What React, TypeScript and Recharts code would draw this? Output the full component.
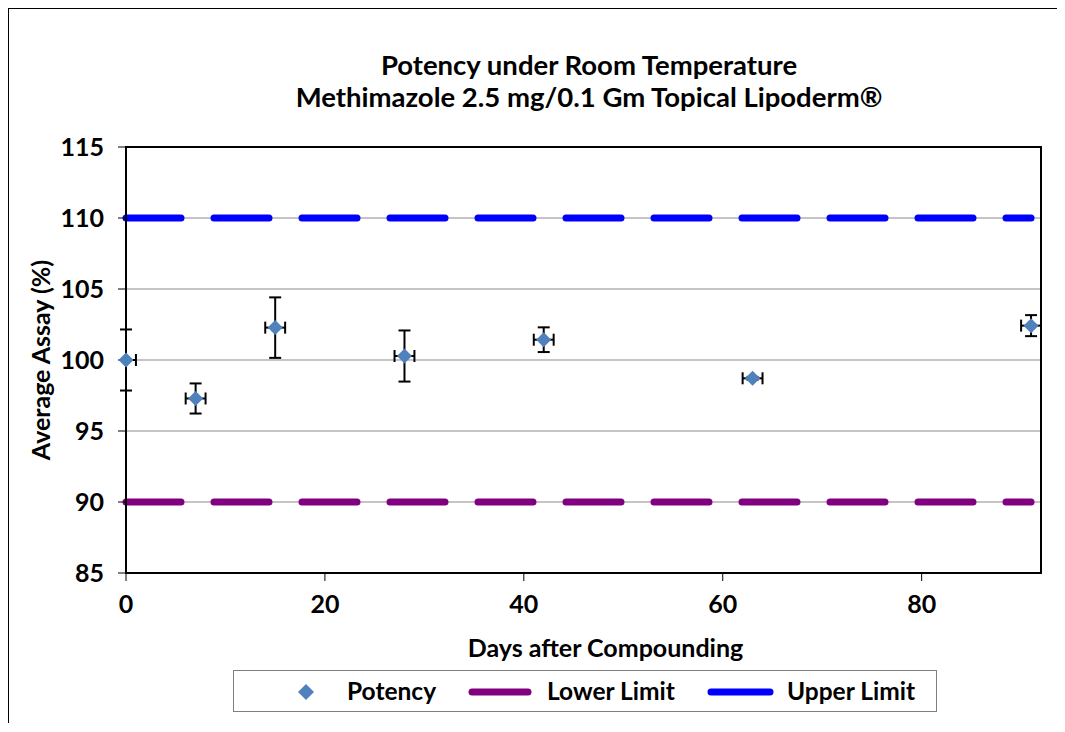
import React from "react";
import { ComposedChart, XAxis, YAxis, CartesianGrid, Scatter, Line, ErrorBar, Legend, ReferenceArea } from "recharts";

// values
const days = [0, 7, 15, 28, 42, 63, 91];
const potency = [100.0, 97.29, 102.28, 100.28, 101.43, 98.71, 102.42];
const potencySD = [2.15, 1.06, 2.13, 1.8, 0.87, 0.1, 0.74];
const dayErr: (number | number[])[] = [[0, 1], 1, 1, 1, 1, 1, 1];
const lowerLimit = 90;
const upperLimit = 110;
const xTicks = [0, 20, 40, 60, 80];
const yTicks = [85, 90, 95, 100, 105, 110, 115];

const rows = days.map((d, i) => ({
  day: d,
  potency: potency[i],
  sd: potencySD[i],
  dayErr: dayErr[i],
  lower: lowerLimit,
  upper: upperLimit,
}));

const FONT = "Lato, 'Open Sans', sans-serif";
const MARKER = "#4F81BD";
const PURPLE = "#800080";
const BLUE = "#0000FF";

const Diamond = (props: any) => {
  const { cx, cy } = props;
  const r = 7.5;
  return <polygon points={`${cx},${cy - r} ${cx + r},${cy} ${cx},${cy + r} ${cx - r},${cy}`} fill={MARKER} />;
};

const LegendBox = () => (
  <div style={{ width: 702, height: 40, border: "1px solid #7f7f7f", background: "#fff", fontFamily: FONT, fontWeight: 700, fontSize: 24.5, lineHeight: "28px", color: "#000", position: "relative" }}>
    <svg width={704} height={42} style={{ position: "absolute", left: 0, top: 0 }}>
      <polygon points="72,13 80,21 72,29 64,21" fill={MARKER} />
      <line x1={238} y1={21} x2={294} y2={21} stroke={PURPLE} strokeWidth={7} strokeLinecap="round" />
      <line x1={477} y1={21} x2={536} y2={21} stroke={BLUE} strokeWidth={7} strokeLinecap="round" />
    </svg>
    <span style={{ position: "absolute", left: 113, top: 6 }}>Potency</span>
    <span style={{ position: "absolute", left: 313, top: 6 }}>Lower Limit</span>
    <span style={{ position: "absolute", left: 553, top: 6 }}>Upper Limit</span>
  </div>
);

export default function App() {
  return (
    <div style={{ position: "relative", width: 1049, height: 714, fontFamily: FONT, borderTop: "2px solid #000", borderLeft: "2px solid #000", marginLeft: -1, marginTop: -1 }}>
      <div style={{ position: "absolute", left: 80, width: 1000, top: 40, textAlign: "center", fontWeight: 700, fontSize: 27.5, lineHeight: "32px", color: "#000" }}>
        <div>Potency under Room Temperature</div>
        <div>Methimazole 2.5 mg/0.1 Gm Topical Lipoderm®</div>
      </div>
      <div style={{ position: "absolute", left: -1, top: -1 }}>
        <ComposedChart width={1050} height={716} data={rows} margin={{ top: 139, right: 17, bottom: 51, left: 10 }}>
          <CartesianGrid vertical={false} stroke="#8c8c8c" strokeWidth={1.2} />
          <XAxis
            type="number"
            dataKey="day"
            domain={[0, 92]}
            ticks={xTicks}
            height={100}
            tickSize={8}
            tickMargin={14}
            axisLine={{ stroke: "#000", strokeWidth: 2 }}
            tickLine={{ stroke: "#000" }}
            tick={{ fill: "#000", fontSize: 25, fontWeight: 700, fontFamily: FONT }}
            label={{ value: "Days after Compounding", position: "insideBottom", offset: 16, dx: 22, fill: "#000", fontSize: 25, fontWeight: 700, fontFamily: FONT }}
          />
          <YAxis
            type="number"
            domain={[85, 115]}
            ticks={yTicks}
            width={108}
            tickSize={8}
            tickMargin={14}
            axisLine={{ stroke: "#000", strokeWidth: 2 }}
            tickLine={{ stroke: "#000" }}
            tick={{ fill: "#000", fontSize: 25, fontWeight: 700, fontFamily: FONT }}
            label={{ value: "Average Assay (%)", angle: -90, position: "insideLeft", offset: 23, fill: "#000", fontSize: 25, fontWeight: 700, fontFamily: FONT, style: { textAnchor: "middle" } }}
          />
          <ReferenceArea x1={0} x2={92} y1={85} y2={115} fill="none" stroke="#000" strokeWidth={2} />
          <Line type="linear" dataKey="lower" name="Lower Limit" stroke={PURPLE} strokeWidth={7} strokeDasharray="55 33" strokeLinecap="round" dot={false} activeDot={false} isAnimationActive={false} />
          <Line type="linear" dataKey="upper" name="Upper Limit" stroke={BLUE} strokeWidth={7} strokeDasharray="55 33" strokeLinecap="round" dot={false} activeDot={false} isAnimationActive={false} />
          <Scatter dataKey="potency" name="Potency" fill={MARKER} shape={Diamond} isAnimationActive={false}>
            <ErrorBar dataKey="sd" direction="y" stroke="#000" strokeWidth={2} width={6} />
            <ErrorBar dataKey="dayErr" direction="x" stroke="#000" strokeWidth={2} width={6} />
          </Scatter>
          <Legend
            layout="horizontal"
            verticalAlign="middle"
            align="center"
            wrapperStyle={{ left: 225, top: 662, width: 704, height: 42 }}
            content={() => <LegendBox />}
          />
        </ComposedChart>
      </div>
    </div>
  );
}
